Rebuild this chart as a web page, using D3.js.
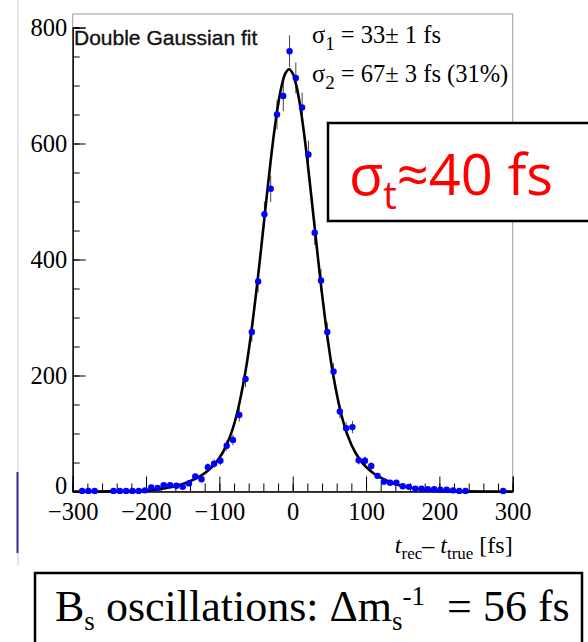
<!DOCTYPE html>
<html>
<head>
<meta charset="utf-8">
<script src="https://cdn.jsdelivr.net/npm/d3@7"></script>
<style>
    body { margin: 0; background: #fff; }
    svg { display: block; }
</style>
</head>
<body>
<div class="chart"></div>
<script>
// histogram: 70 bins from -300 to 300 fs
const bin_range = [-300, 300]
const bin_counts = [
    0, 1, 1, 1, 0, 0, 1, 1, 1, 1,
    1, 2, 7, 6, 11, 11, 10, 8, 14, 26,
    21, 42, 48, 53, 79, 89, 132, 194, 275, 362,
    478, 522, 650, 682, 759, 713, 662, 581, 446, 364,
    275, 207, 138, 109, 111, 54, 53, 44, 27, 17,
    15, 15, 9, 8, 5, 5, 4, 4, 3, 3,
    2, 1, 1, 0, 0, 0, 0, 0, 1, 0
]

// fitted double gaussian
const fit_t = [-300, -245, -205, -185, -165, -145, -125, -115, -105, -95, -85, -75, -65, -60, -55, -50,
    -45, -40, -35, -30, -25, -20, -15, -10, -5, 0, 5, 10, 15, 20, 25, 30, 35, 40, 45, 50, 55,
    65, 75, 85, 95, 105, 115, 135, 155, 175, 195, 235, 300]
const fit_n = [0, 0.2, 1.5, 3.6, 7.6, 15, 27.3, 36.6, 49.3, 68.1, 96.3, 139.3, 202.5, 242.8, 289, 340.6,
    396.4, 454.8, 513.7, 570.4, 622.2, 666.2, 699.7, 720.8, 728, 720.8, 699.7, 666.2, 622.2, 570.4, 513.7,
    454.8, 396.4, 340.6, 289, 242.8, 202.5, 139.3, 96.3, 68.1, 49.3, 36.6, 27.3, 15, 7.6, 3.6, 1.5, 0.2, 0]

const x_ticks = [-300, -200, -100, 0, 100, 200, 300]
const y_ticks = [0, 200, 400, 600, 800]

const ctx = {
    W: 588,
    H: 642,
    left: 72.7, right: 512.7, top: 14, bottom: 491.5,
}

function create_chart() {
    const svg = d3.select(".chart").append("svg")
        .attr("width", ctx.W)
        .attr("height", ctx.H)

    ctx.x = d3.scaleLinear().domain([-300, 300]).range([ctx.left, ctx.right])
    ctx.y = d3.scaleLinear().domain([0, 800]).range([ctx.bottom, 27.5])

    // slide leftovers
    svg.append("line")
        .attr("x1", 18).attr("x2", 18).attr("y1", 0).attr("y2", 566)
        .attr("stroke", "#e8e8e8").attr("stroke-width", 2)
    svg.append("line")
        .attr("x1", 17.5).attr("x2", 17.5).attr("y1", 472).attr("y2", 553)
        .attr("stroke", "#3f2598").attr("stroke-width", 2)

    svg.append("rect")
        .attr("x", ctx.left).attr("y", ctx.top)
        .attr("width", ctx.right - ctx.left).attr("height", ctx.bottom - ctx.top)
        .attr("fill", "none").attr("stroke", "#999")

    draw_axes(svg)
    draw_data(svg)
    draw_labels(svg)
}

function draw_axes(svg) {
    const minor_y = d3.range(0, 801, 50)
    const minor_x = d3.range(-300, 301, 20)

    svg.append("g")
        .attr("transform", `translate(${ctx.left},0)`)
        .call(d3.axisLeft(ctx.y).tickValues(minor_y).tickSize(-7).tickFormat(""))
    svg.append("g")
        .attr("class", "yaxis")
        .attr("transform", `translate(${ctx.left},0)`)
        .call(d3.axisLeft(ctx.y).tickValues(y_ticks).tickSize(-13).tickPadding(5.5).tickFormat(d3.format("d")))

    svg.append("g")
        .attr("transform", `translate(0,${ctx.bottom})`)
        .call(d3.axisBottom(ctx.x).tickValues(minor_x).tickSize(-8).tickFormat(""))
    svg.append("g")
        .attr("class", "xaxis")
        .attr("transform", `translate(0,${ctx.bottom})`)
        .call(d3.axisBottom(ctx.x).tickValues(x_ticks).tickSize(-15).tickPadding(11.5))

    svg.selectAll(".domain").attr("stroke", "#000")
    svg.selectAll(".tick line").attr("stroke", "#000")
    svg.selectAll(".yaxis text, .xaxis text")
        .attr("font-family", "Liberation Serif")
        .attr("font-size", 24.5)
        .attr("fill", "#000")
    // zero label sits just above the -300 label, as in the original
    svg.selectAll(".yaxis .tick text").filter(d => d == 0).attr("dy", "0.1em")
}

function draw_data(svg) {
    const w = (bin_range[1] - bin_range[0]) / bin_counts.length
    const bins = bin_counts
        .map((n, i) => ({t: bin_range[0] + (i + 0.5) * w, n: n}))
        .filter(d => d.n > 0)

    svg.append("g")
        .selectAll("line")
        .data(bins)
        .enter()
        .append("line")
        .attr("x1", d => ctx.x(d.t)).attr("x2", d => ctx.x(d.t))
        .attr("y1", d => ctx.y(d.n - Math.sqrt(d.n)))
        .attr("y2", d => ctx.y(d.n + Math.sqrt(d.n)))
        .attr("stroke", "#444")
        .attr("stroke-width", 1)

    const line = d3.line()
        .x((d, i) => ctx.x(fit_t[i]))
        .y(d => ctx.y(d))
        .curve(d3.curveCatmullRom)

    svg.append("path")
        .attr("d", line(fit_n))
        .attr("fill", "none")
        .attr("stroke", "#000")
        .attr("stroke-width", 2.6)

    svg.append("g")
        .selectAll("circle")
        .data(bins)
        .enter()
        .append("circle")
        .attr("cx", d => ctx.x(d.t))
        .attr("cy", d => ctx.y(d.n))
        .attr("r", 3.2)
        .attr("fill", "#0000ff")
}

function draw_labels(svg) {
    svg.append("text")
        .attr("x", 74).attr("y", 45)
        .attr("font-family", "Liberation Sans")
        .attr("font-size", 21)
        .attr("fill", "#111")
        .attr("stroke", "#111").attr("stroke-width", 0.35)
        .text("Double Gaussian fit")

    const sig = [["1", " = 33\u00b1 1 fs", 42.7], ["2", " = 67\u00b1 3 fs (31%)", 81.7]]
    sig.forEach(s => {
        let t = svg.append("text")
            .attr("x", 312).attr("y", s[2])
            .attr("font-family", "Liberation Serif")
            .attr("font-size", 24.5)
        t.append("tspan").text("\u03c3")
        t.append("tspan").attr("font-size", 19).attr("dy", 7).text(s[0])
        t.append("tspan").attr("dy", -7).text(s[1])
    })

    // x title
    let xt = svg.append("text")
        .attr("x", ctx.right).attr("y", 553)
        .attr("text-anchor", "end")
        .attr("font-family", "Liberation Serif")
        .attr("font-size", 24)
    xt.append("tspan").attr("font-style", "italic").text("t")
    xt.append("tspan").attr("font-size", 17).attr("dy", 6).text("rec")
    xt.append("tspan").attr("dy", -6).text("\u2013 ")
    xt.append("tspan").attr("font-style", "italic").text("t")
    xt.append("tspan").attr("font-size", 17).attr("dy", 6).text("true")
    xt.append("tspan").attr("dy", -6).text(" [fs]")

    // red box
    svg.append("rect")
        .attr("x", 328).attr("y", 123).attr("width", 280).attr("height", 98)
        .attr("fill", "#fff").attr("stroke", "#000").attr("stroke-width", 2.5)
    let rt = svg.append("text")
        .attr("x", 349).attr("y", 195)
        .attr("font-family", "Open Sans")
        .attr("font-size", 56)
        .attr("fill", "#ff0000")
    rt.append("tspan").text("\u03c3")
    rt.append("tspan").attr("font-size", 38).attr("dy", 14).text("t")
    rt.append("tspan").attr("dy", -14).text("\u224840 fs")

    // bottom box
    svg.append("rect")
        .attr("x", 35).attr("y", 573).attr("width", 547).attr("height", 90)
        .attr("fill", "#fff").attr("stroke", "#000").attr("stroke-width", 2.5)
    let bt = svg.append("text")
        .attr("x", 55).attr("y", 621)
        .attr("font-family", "Liberation Serif")
        .attr("font-size", 44)
    bt.append("tspan").text("B")
    bt.append("tspan").attr("font-size", 27).attr("dy", 9).text("s")
    bt.append("tspan").attr("dy", -9).text(" oscillations: \u0394m")
    bt.append("tspan").attr("font-size", 27).attr("dy", 9).text("s")
    bt.append("tspan").attr("font-size", 27).attr("dy", -25).text("-1")
    bt.append("tspan").attr("dy", 16).attr("xml:space", "preserve").text("\u00a0 = 56 fs")
}

create_chart()
</script>
</body>
</html>
